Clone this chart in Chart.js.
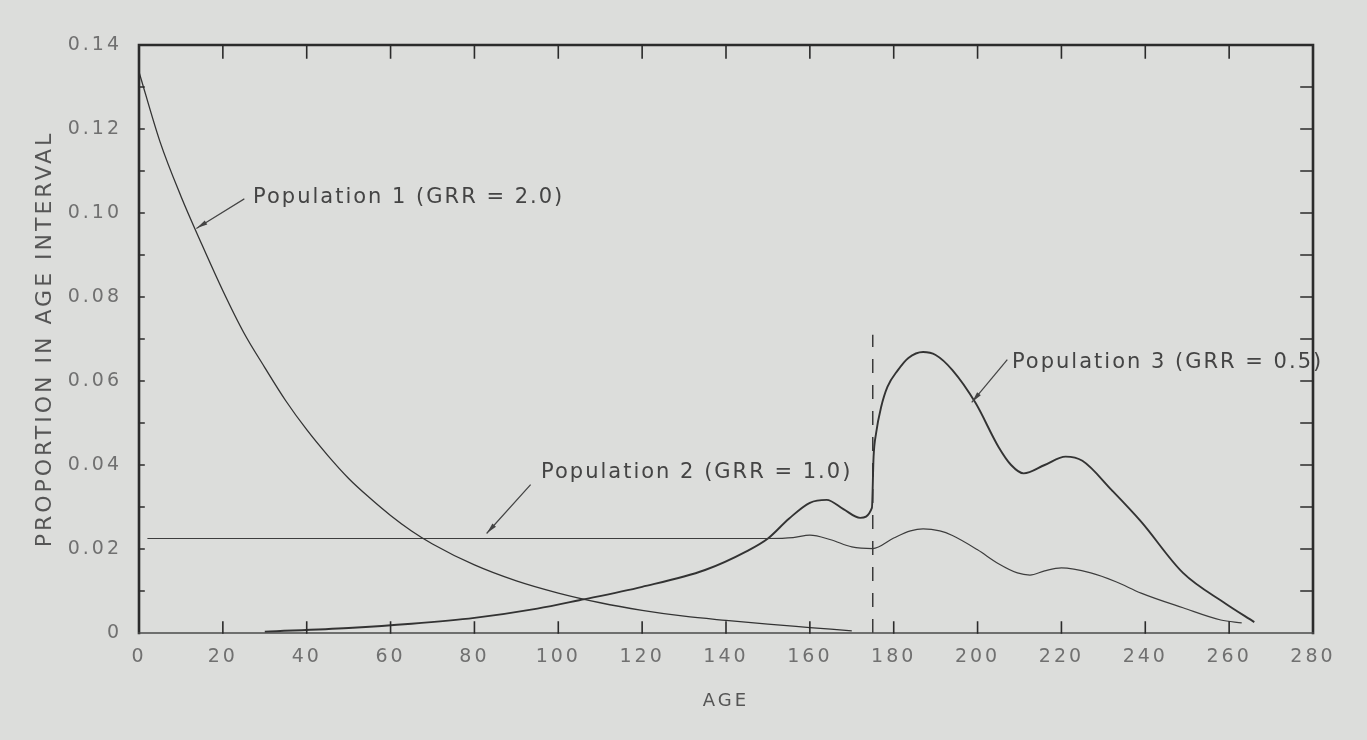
<!DOCTYPE html>
<html>
<head>
<meta charset="utf-8">
<title>Proportion in age interval</title>
<script src="https://cdn.jsdelivr.net/npm/chart.js@4.4.1/dist/chart.umd.min.js"></script>
<style>
  html, body { margin: 0; padding: 0; background: #dcdddb; }
  #wrap { width: 1367px; height: 740px; position: relative; }
</style>
</head>
<body>
<div id="wrap"><canvas id="ageChart"></canvas></div>
<script>
"use strict";

const xTicks = [0, 20, 40, 60, 80, 100, 120, 140, 160, 180, 200, 220, 240, 260, 280];
const yTicks = [0, 0.02, 0.04, 0.06, 0.08, 0.1, 0.12, 0.14];
const yMinorTicks = [0.01, 0.02, 0.03, 0.04, 0.05, 0.06, 0.07, 0.08, 0.09, 0.1, 0.11, 0.12, 0.13];

const agesPop1 = [0, 5, 10, 15, 20, 25, 30, 35, 40, 45, 50, 55, 60, 65, 70, 80, 90, 100, 110, 120, 130, 140, 150, 160, 170];
const valuesPop1 = [0.1336, 0.117, 0.104, 0.0925, 0.0815, 0.0715, 0.0632, 0.0553, 0.0484, 0.0423, 0.0368, 0.0322, 0.028, 0.0243, 0.0212, 0.0162, 0.0124, 0.0095, 0.0072, 0.0054, 0.004, 0.003, 0.0021, 0.0013, 0.0005];

const agesPop2 = [2, 150, 156, 160, 165, 170, 175, 180, 184, 187, 191, 194, 200, 205, 209.5, 212.5, 216, 220, 227, 233, 239, 249, 258, 263];
const valuesPop2 = [0.0225, 0.0225, 0.0227, 0.0233, 0.0222, 0.0205, 0.0201, 0.0226, 0.0243, 0.0248, 0.0243, 0.0232, 0.0198, 0.0165, 0.0143, 0.0138, 0.0148, 0.0155, 0.0143, 0.0122, 0.0095, 0.006, 0.0031, 0.0024];

const agesPop3 = [30, 50, 65, 80, 95, 105, 120, 135, 145, 150, 155, 160, 164, 168, 172, 174.8, 175.2, 175.8, 177, 178.5, 181, 183.5, 187, 190, 194, 199.5, 205, 208, 211, 216, 221, 225, 232, 239, 249, 259, 266];
const valuesPop3 = [0.0003, 0.0012, 0.0022, 0.0036, 0.0058, 0.0078, 0.011, 0.015, 0.0195, 0.0225, 0.0272, 0.031, 0.0317, 0.0295, 0.0274, 0.0298, 0.042, 0.0476, 0.0538, 0.0586, 0.0626, 0.0655, 0.0669, 0.0662, 0.0626, 0.0548, 0.0443, 0.04, 0.038, 0.04, 0.042, 0.041, 0.034, 0.0265, 0.0143, 0.0071, 0.0026];

const cutoffAge = 175;
const cutoffRange = [0, 0.071];

const notes = [
  { text: "Population 1 (GRR = 2.0)", at: [27.2, 0.1036], from: [25, 0.1033], to: [13.8, 0.0964] },
  { text: "Population 2 (GRR = 1.0)", at: [95.9, 0.0383], from: [93.3, 0.0352], to: [83, 0.0238] },
  { text: "Population 3 (GRR = 0.5)", at: [208.2, 0.0645], from: [207, 0.065], to: [198.7, 0.055] }
];

const INK = "#333333";
const FONT = "'DejaVu Sans', sans-serif";

function toPoints(ages, values) {
  return ages.map((age, i) => ({ x: age, y: values[i] }));
}

function curve(data, width, color) {
  return {
    data,
    borderColor: color || INK,
    borderWidth: width,
    pointRadius: 0,
    cubicInterpolationMode: "monotone",
    showLine: true
  };
}

const framePlugin = {
  id: "frame",
  beforeDraw(chart) {
    chart.ctx.letterSpacing = "3px";
  },
  afterDraw(chart) {
    const { ctx, chartArea: a, scales: { x, y } } = chart;
    ctx.save();
    ctx.letterSpacing = "0px";
    ctx.strokeStyle = "#2b2b2b";
    ctx.lineCap = "square";

    // top, left and right border, heavy
    ctx.lineWidth = 2.6;
    ctx.beginPath();
    ctx.moveTo(a.left, a.bottom);
    ctx.lineTo(a.left, a.top);
    ctx.lineTo(a.right, a.top);
    ctx.lineTo(a.right, a.bottom);
    ctx.stroke();

    // bottom axis is lighter in the print
    ctx.lineWidth = 1.7;
    ctx.strokeStyle = "#4a4a4a";
    ctx.beginPath();
    ctx.moveTo(a.left, a.bottom);
    ctx.lineTo(a.right, a.bottom);
    ctx.stroke();

    // inward ticks
    ctx.strokeStyle = "#2b2b2b";
    ctx.lineWidth = 1.6;
    ctx.beginPath();
    xTicks.slice(1, -1).forEach((v) => {
      const px = x.getPixelForValue(v);
      ctx.moveTo(px, a.top);
      ctx.lineTo(px, a.top + 13);
      ctx.moveTo(px, a.bottom);
      ctx.lineTo(px, a.bottom - 11);
    });
    yMinorTicks.forEach((v) => {
      const py = y.getPixelForValue(v);
      ctx.moveTo(a.right, py);
      ctx.lineTo(a.right - 12, py);
      ctx.moveTo(a.left, py);
      ctx.lineTo(a.left + 5, py);
    });
    ctx.stroke();

    // labels with arrows
    ctx.font = `21px ${FONT}`;
    ctx.letterSpacing = "2px";
    ctx.fillStyle = "#444444";
    ctx.textBaseline = "middle";
    ctx.textAlign = "left";
    ctx.strokeStyle = "#444444";
    ctx.lineWidth = 1.2;
    notes.forEach((note) => {
      ctx.fillText(note.text, x.getPixelForValue(note.at[0]), y.getPixelForValue(note.at[1]));
      const x0 = x.getPixelForValue(note.from[0]);
      const y0 = y.getPixelForValue(note.from[1]);
      const x1 = x.getPixelForValue(note.to[0]);
      const y1 = y.getPixelForValue(note.to[1]);
      ctx.beginPath();
      ctx.moveTo(x0, y0);
      ctx.lineTo(x1, y1);
      ctx.stroke();
      const ang = Math.atan2(y1 - y0, x1 - x0);
      ctx.beginPath();
      ctx.moveTo(x1, y1);
      ctx.lineTo(x1 - 11 * Math.cos(ang - 0.22), y1 - 11 * Math.sin(ang - 0.22));
      ctx.lineTo(x1 - 11 * Math.cos(ang + 0.22), y1 - 11 * Math.sin(ang + 0.22));
      ctx.closePath();
      ctx.fill();
    });
    ctx.restore();
  }
};

const ctx = document.getElementById("ageChart");

new Chart(ctx, {
  type: "scatter",
  data: {
    datasets: [
      curve(toPoints(agesPop1, valuesPop1), 1.3),
      curve(toPoints(agesPop2, valuesPop2), 1.2, "#3d3d3d"),
      curve(toPoints(agesPop3, valuesPop3), 1.9),
      {
        data: cutoffRange.map((v) => ({ x: cutoffAge, y: v })),
        borderColor: "#3a3a3a",
        borderWidth: 1.5,
        borderDash: [14, 12],
        pointRadius: 0,
        showLine: true
      }
    ]
  },
  options: {
    responsive: true,
    maintainAspectRatio: false,
    animation: false,
    events: [],
    layout: { padding: { left: 0, right: 54, top: 45, bottom: 0 } },
    plugins: {
      legend: { display: false },
      tooltip: { enabled: false }
    },
    scales: {
      x: {
        type: "linear",
        min: 0,
        max: 280,
        afterBuildTicks: (scale) => { scale.ticks = xTicks.map((v) => ({ value: v })); },
        afterFit: (scale) => { scale.height = 107; },
        grid: { display: false, drawTicks: false },
        border: { display: false },
        ticks: {
          color: "#707070",
          padding: 13,
          maxRotation: 0,
          font: { family: FONT, size: 19 }
        },
        title: {
          display: true,
          text: "AGE",
          color: "#555555",
          font: { family: FONT, size: 18 },
          padding: { top: 4, bottom: 28 }
        }
      },
      y: {
        type: "linear",
        min: 0,
        max: 0.14,
        afterBuildTicks: (scale) => { scale.ticks = yTicks.map((v) => ({ value: v })); },
        afterFit: (scale) => { scale.width = 139; },
        grid: { display: false, drawTicks: false },
        border: { display: false },
        ticks: {
          color: "#707070",
          padding: 17,
          font: { family: FONT, size: 19 },
          callback: (v) => (v === 0 ? "0" : v.toFixed(2))
        },
        title: {
          display: true,
          text: "PROPORTION IN AGE INTERVAL",
          color: "#555555",
          font: { family: FONT, size: 22 },
          padding: { top: 32, bottom: 0 }
        }
      }
    }
  },
  plugins: [framePlugin]
});
</script>
</body>
</html>
